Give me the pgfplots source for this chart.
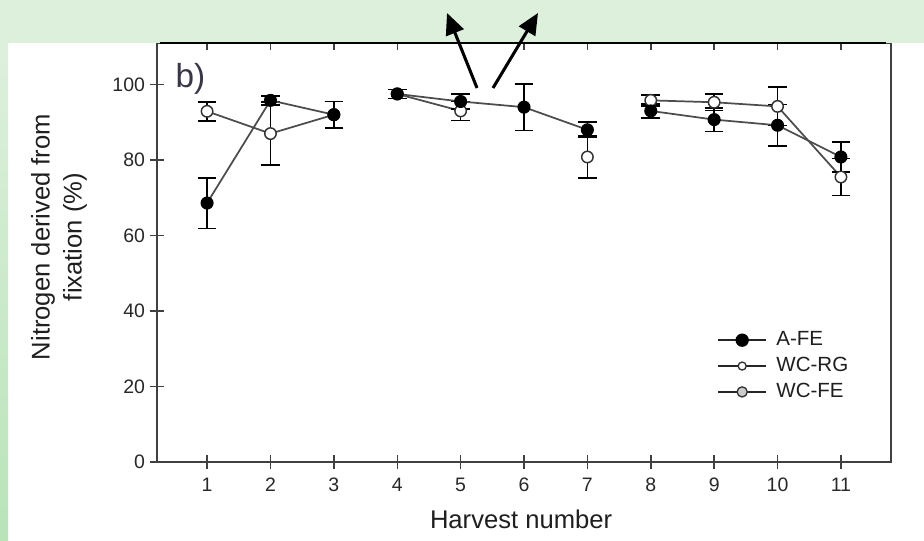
\documentclass[border=0pt]{standalone}
\usepackage{pgfplots}
\pgfplotsset{compat=1.18}
\usepackage{fontspec}
\setmainfont{Liberation Sans}
\usetikzlibrary{arrows.meta}
\definecolor{bandgreen}{RGB}{221,240,220}
\definecolor{stripgreen}{RGB}{184,228,184}
\definecolor{tickgray}{RGB}{40,40,40}
\definecolor{bcol}{RGB}{55,55,72}
\pgfplotsset{
  conn/.style={draw=black!70, line width=1.3pt},
  afe/.style={conn, mark=*, mark size=4.4pt, mark options={draw=black, fill=black, solid, line width=1pt}},
  wco/.style={conn, mark=*, mark size=4.3pt, mark options={draw=black!80, fill=white, solid, line width=1.1pt}},
  eb/.style={error bars/.cd, y dir=both, y explicit,
     error bar style={black, line width=1.2pt, solid},
     error mark options={rotate=90, mark size=7pt, black, line width=1.2pt}},
}
\begin{document}
\begin{tikzpicture}[x=0.75pt,y=0.75pt]
\useasboundingbox (0,0) rectangle (924,541);
\fill[bandgreen] (0,0) rectangle (924,541);
\fill[white] (8,0) rectangle (924,498);
\shade[top color=bandgreen, bottom color=stripgreen] (0,0) rectangle (8,498);
\begin{axis}[
  at={(117.75pt,59.25pt)}, anchor=south west,
  scale only axis, width=550.5pt, height=314.25pt,
  xmin=0.21, xmax=11.79, ymin=0, ymax=111,
  xtick={1,...,11}, ytick={0,20,...,100},
  xtick pos=both, ytick pos=left,
  tick align=center, major tick length=11pt,
  axis line style={draw=black!75, line width=1.3pt},
  tick style={draw=black!75, line width=1.1pt},
  /pgf/number format/assume math mode=true,
  tick label style={font=\fontsize{14.6}{16}\selectfont, text=tickgray},
  xticklabel style={yshift=-3pt},
  xlabel={Harvest number},
  ylabel={Nitrogen derived from\\fixation (\%)},
  label style={font=\fontsize{19.2}{24}\selectfont, text=black!88},
  xlabel style={at={(axis description cs:0.496,-0.138)}, anchor=center},
  ylabel style={at={(axis description cs:-0.1335,0.537)}, anchor=center, align=center},
  legend style={at={(axis description cs:0.763,0.32)}, anchor=north west,
     draw=none, fill=none, inner sep=0pt, row sep=1.4pt,
     font=\fontsize{15.4}{18}\selectfont,
     nodes={inner sep=2pt, text height=11pt, text depth=3pt, text=black!88},
     /tikz/every odd column/.append style={column sep=5pt}},
  legend cell align=left,
  legend image code/.code={\draw[mark repeat=2, mark phase=2] plot coordinates {(0pt,0pt)(18pt,0pt)(36pt,0pt)};},
]
% open circles (WC)
\addplot+[wco, forget plot, eb] coordinates {(1,92.9) +- (0,2.5) (2,87) +- (0,8.4) (3,92) +- (0,3.5)};
\addplot+[wco, forget plot, eb] coordinates {(4,97.5) +- (0,1.2) (5,93) +- (0,2.5)};
\addplot+[wco, only marks, forget plot, eb] coordinates {(7,80.8) +- (0,5.5)};
\addplot+[wco, forget plot, eb] coordinates {(8,95.8) +- (0,1.5) (9,95.3) +- (0,2.2) (10,94.2) +- (0,5.1) (11,75.5) +- (0,4.9)};
% filled circles (A-FE)
\addplot+[afe, forget plot, eb] coordinates {(1,68.6) +- (0,6.7) (2,95.8) +- (0,1.2) (3,92) +- (0,3.5)};
\addplot+[afe, forget plot, eb] coordinates {(4,97.5) +- (0,1.2) (5,95.5) +- (0,2) (6,94) +- (0,6.2) (7,88) +- (0,2)};
\addplot+[afe, forget plot, eb] coordinates {(8,93) +- (0,1.8) (9,90.7) +- (0,3.1) (10,89.2) +- (0,5.5) (11,80.8) +- (0,4)};
% legend
\addlegendimage{draw=black!85, line width=1.3pt, mark=*, mark size=4.5pt, mark options={draw=black, fill=black, line width=1pt}}
\addlegendentry{A-FE}
\addlegendimage{draw=black!85, line width=1.3pt, mark=*, mark size=3pt, mark options={draw=black!80, fill=white, line width=1pt}}
\addlegendentry{WC-RG}
\addlegendimage{draw=black!85, line width=1.3pt, mark=*, mark size=3.8pt, mark options={draw=black!80, fill=black!20, line width=1pt}}
\addlegendentry{WC-FE}
\node[anchor=base west, font=\fontsize{25}{28}\selectfont, text=bcol, inner sep=0pt] at (axis cs:0.5,99.3) {b)};
\end{axis}
\fill[bandgreen] (0,498) rectangle (924,541);
\draw[black, line width=1.8pt] (160,498) -- (886,498);
\draw[black, line width=2.3pt, -{Triangle[length=16,width=14]}] (477,453) -- (447,528);
\draw[black, line width=2.3pt, -{Triangle[length=16,width=14]}] (493,453) -- (538,528);
\end{tikzpicture}
\end{document}
